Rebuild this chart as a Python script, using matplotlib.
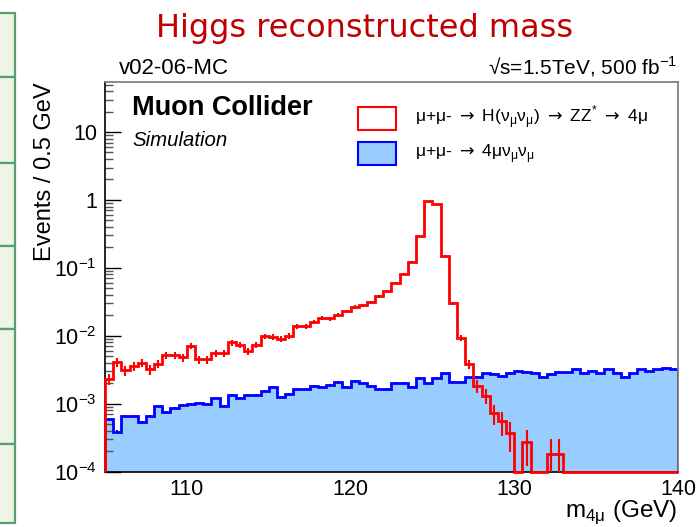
"""
Higgs reconstructed mass: signal vs background (ROOT-style)
"""
import numpy as np
import matplotlib.pyplot as plt
from matplotlib.patches import Rectangle
from matplotlib.ticker import FixedLocator, FixedFormatter, LogLocator, NullFormatter

plt.rcParams['font.family'] = ['Liberation Sans', 'DejaVu Sans']

# 0.5 GeV bins, 105-140 GeV
bin_edges = np.arange(105.0, 140.001, 0.5)

# signal: mu+mu- -> H(nu nu) -> ZZ* -> 4mu
sig = np.array([
    2.3e-3, 4.1e-3, 3.1e-3, 3.6e-3, 4.0e-3, 3.2e-3, 3.9e-3, 5.2e-3, 5.2e-3, 4.8e-3,
    7.1e-3, 4.5e-3, 4.5e-3, 5.5e-3, 5.5e-3, 8.0e-3, 7.3e-3, 5.9e-3, 7.4e-3, 9.9e-3,
    9.6e-3, 9.0e-3, 1.0e-2, 1.38e-2, 1.38e-2, 1.6e-2, 1.85e-2, 1.8e-2, 2.05e-2, 2.3e-2,
    2.65e-2, 2.8e-2, 3.1e-2, 3.8e-2, 4.6e-2, 6.0e-2, 8.1e-2, 0.123, 0.29, 0.97,
    0.87, 0.149, 0.030, 9.3e-3, 3.8e-3, 1.83e-3, 1.3e-3, 7.3e-4, 5.5e-4, 3.7e-4,
    0.0, 2.7e-4, 0.0, 0.0, 1.8e-4, 1.8e-4, 0.0, 0.0, 0.0, 0.0,
    0.0, 0.0, 0.0, 0.0, 0.0, 0.0, 0.0, 0.0, 0.0, 0.0,
])

# background: mu+mu- -> 4mu nu nu
bkg = np.array([
    5.9e-4, 3.9e-4, 6.6e-4, 6.6e-4, 5.3e-4, 6.6e-4, 9.2e-4, 7.6e-4, 8.7e-4, 9.5e-4,
    1.0e-3, 1.03e-3, 1.0e-3, 1.2e-3, 9.3e-4, 1.34e-3, 1.2e-3, 1.34e-3, 1.34e-3, 1.55e-3,
    1.77e-3, 1.26e-3, 1.39e-3, 1.67e-3, 1.65e-3, 1.83e-3, 1.77e-3, 1.92e-3, 2.1e-3, 1.77e-3,
    2.17e-3, 1.99e-3, 1.83e-3, 1.66e-3, 1.66e-3, 2.05e-3, 2.05e-3, 1.75e-3, 2.4e-3, 2.0e-3,
    2.4e-3, 2.8e-3, 2.1e-3, 2.1e-3, 2.45e-3, 2.5e-3, 2.8e-3, 2.75e-3, 2.6e-3, 2.85e-3,
    3.04e-3, 2.95e-3, 2.85e-3, 2.48e-3, 2.75e-3, 2.95e-3, 2.9e-3, 3.3e-3, 2.85e-3, 3.05e-3,
    2.8e-3, 3.25e-3, 2.85e-3, 2.5e-3, 2.8e-3, 3.2e-3, 3.0e-3, 3.2e-3, 3.4e-3, 3.25e-3,
])

# per-event weights (stat. error = sqrt(content * weight))
sig_weight = 8e-5
bkg_weight = 1.5e-6

ytick_vals = [1e-4, 1e-3, 1e-2, 1e-1, 1, 10]
ytick_labels = ['10$^{\\mathregular{\u22124}}$', '10$^{\\mathregular{\u22123}}$',
                '10$^{\\mathregular{\u22122}}$', '10$^{\\mathregular{\u22121}}$', '1', '10']
xtick_vals = [110, 120, 130, 140]

W, H = 697, 527
ymin, ymax = 1e-4, 55.0


def fx(px):
    return px / W


def fy(py):
    return 1 - py / H


fig = plt.figure(figsize=(W / 100, H / 100), dpi=100)

# slide side boxes (green)
box_rows = [13, 77, 163, 246, 329, 444, 523]
for top, bot in zip(box_rows[:-1], box_rows[1:]):
    fig.patches.append(Rectangle((fx(-10), fy(bot)), 25 / W, (bot - top) / H,
                                 transform=fig.transFigure, facecolor='#eef4e6',
                                 edgecolor='#5a9e6e', lw=1.6))

ax = fig.add_axes([fx(105), fy(471.7), (678 - 105) / W, (471.7 - 81.7) / H])

centers = 0.5 * (bin_edges[:-1] + bin_edges[1:])

# background (filled)
ax.stairs(bkg, bin_edges, fill=True, color='#99ccff', baseline=ymin, zorder=1)
ax.stairs(bkg, bin_edges, color='#0000ff', lw=2, baseline=ymin, zorder=2)
ax.errorbar(centers, bkg, yerr=np.sqrt(bkg * bkg_weight), fmt='none',
            ecolor='#0000ff', elinewidth=1.5, capsize=0, zorder=2)

# signal (line)
sig_draw = np.where(sig > 0, sig, ymin)
ax.stairs(sig_draw, bin_edges, color='#ff0000', lw=2, baseline=ymin, zorder=3,
          clip_on=False)
m = sig > 0
ax.errorbar(centers[m], sig[m], yerr=np.sqrt(sig[m] * sig_weight), fmt='none',
            ecolor='#ff0000', elinewidth=1.5, capsize=0, zorder=3)

ax.set_xlim(105, 140)
ax.set_yscale('log')
ax.set_ylim(ymin, ymax)

ax.set_xticks(xtick_vals)
ax.set_xticklabels([str(v) for v in xtick_vals])
ax.yaxis.set_major_locator(FixedLocator(ytick_vals))
ax.yaxis.set_major_formatter(FixedFormatter(ytick_labels))
ax.yaxis.set_minor_locator(LogLocator(base=10, subs=np.arange(2, 10), numticks=20))
ax.yaxis.set_minor_formatter(NullFormatter())

ax.tick_params(axis='x', length=0, pad=5.3, labelsize=15.5)
ax.tick_params(axis='y', which='major', direction='in', length=11.5, width=1,
               labelsize=15.5, pad=5.8)
ax.tick_params(axis='y', which='minor', direction='in', length=5.8, width=1,
               color='#555555')
ax.tick_params(right=False, top=False)

for s in ['left', 'bottom']:
    ax.spines[s].set_color('black')
    ax.spines[s].set_linewidth(1.2)
for s in ['top', 'right']:
    ax.spines[s].set_color('#777777')
    ax.spines[s].set_linewidth(1.2)

# texts
fig.text(fx(365), fy(37), 'Higgs reconstructed mass', ha='center', va='baseline',
         color='#c00000', fontsize=23, family='DejaVu Sans')
fig.text(fx(119), fy(74), 'v02-06-MC', ha='left', va='baseline', fontsize=16)
fig.text(fx(677), fy(74), '\u221as=1.5TeV, 500 fb$^{\\mathregular{-1}}$',
         ha='right', va='baseline', fontsize=15)
fig.text(fx(132), fy(115), 'Muon Collider', ha='left', va='baseline',
         fontsize=19.5, fontweight='bold')
fig.text(fx(132), fy(146), 'Simulation', ha='left', va='baseline',
         fontsize=14.7, style='italic')

fig.text(fx(45), fy(82), 'Events / 0.5 GeV', rotation=90, ha='center', va='top',
         fontsize=17)
fig.text(fx(677), fy(517), 'm$_{\\mathregular{4\u03bc}}$ (GeV)', ha='right',
         va='baseline', fontsize=17.5)

# legend
fig.patches.append(Rectangle((fx(358), fy(130)), 38 / W, 23 / H, transform=fig.transFigure,
                             facecolor='white', edgecolor='#ff0000', lw=1.5))
fig.patches.append(Rectangle((fx(358), fy(165)), 38 / W, 23 / H, transform=fig.transFigure,
                             facecolor='#99ccff', edgecolor='#0000ff', lw=1.5))
arrow = '$\\rightarrow$'
fig.text(fx(415), fy(122),
         f'\u03bc+\u03bc- {arrow} H(\u03bd$_{{\\mathregular{{\u03bc}}}}$\u03bd$_{{\\mathregular{{\u03bc}}}}$)'
         f' {arrow} ZZ$^{{\\mathregular{{*}}}}$ {arrow} 4\u03bc',
         ha='left', va='baseline', fontsize=12.5)
fig.text(fx(415), fy(157),
         f'\u03bc+\u03bc- {arrow} 4\u03bc\u03bd$_{{\\mathregular{{\u03bc}}}}$\u03bd$_{{\\mathregular{{\u03bc}}}}$',
         ha='left', va='baseline', fontsize=12.5)

plt.savefig('out.png', dpi=100)
plt.close()
